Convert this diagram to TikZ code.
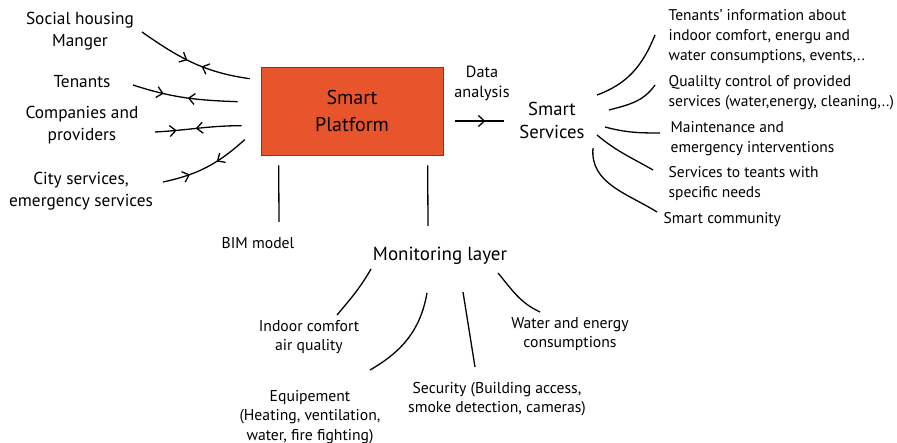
\documentclass[tikz,border=0pt]{standalone}
\usepackage{fontspec}
\setmainfont{PT Sans}
\usetikzlibrary{calc, arrows.meta, decorations.markings, positioning}

\definecolor{platorange}{RGB}{232,85,44}

\begin{document}
\begin{tikzpicture}[x=1pt, y=-1pt, line width=1.3pt,
    every node/.style={inner sep=0pt},
    lbl/.style={align=center, font=\fontsize{17.3}{21.5}\selectfont},
    rlbl/.style={align=left, anchor=west, font=\fontsize{15.5}{20}\selectfont},
    blbl/.style={align=center, font=\fontsize{15.7}{19.5}\selectfont},
    barb/.tip={Straight Barb[length=6pt, width=11pt]},
    twoway/.style 2 args={decoration={markings,
        mark=at position #1 with {\arrow{barb}},
        mark=at position #2 with {\arrowreversed{barb}}},
      postaction={decorate}}]
    \useasboundingbox (0,0) rectangle (897,443);

    % platform and services
    \node[draw=black!70, line width=0.6pt, fill=platorange, minimum width=182pt, minimum height=88pt,
        align=center, font=\fontsize{20}{27}\selectfont] (plat) at (352,111) {Smart\\Platform};
    \node[align=center, font=\fontsize{18.7}{23}\selectfont] (serv) at (552,120) {Smart\\Services};
    \node[lbl, font=\fontsize{16.2}{20}\selectfont] (data) at (482,83) {Data\\analysis};

    % actors on the left
    \node[lbl] (soc) at (80,31) {Social housing\\Manger};
    \node[lbl] (ten) at (82,82) {Tenants};
    \node[lbl] (comp) at (82,125) {Companies and\\providers};
    \node[lbl] (city) at (81,191) {City services,\\emergency services};

    % services on the right
    \node[rlbl] (info) at (668,37) {Tenants’ information about\\indoor comfort, energu and\\water consumptions, events,..};
    \node[rlbl] (qual) at (668,93) {Qualilty control of provided\\services (water,energy, cleaning,..)};
    \node[rlbl] (maint) at (670,139) {Maintenance and\\emergency interventions};
    \node[rlbl] (needs) at (668,184) {Services to teants with\\specific needs};
    \node[rlbl] (comm) at (663,220) {Smart community};

    % layers below
    \node[blbl] (bim) at (258,243) {BIM model};
    \node[blbl, font=\fontsize{19}{20}\selectfont] (mon) at (440,256) {Monitoring layer};
    \node[blbl] (indoor) at (309,337) {Indoor comfort\\air quality};
    \node[blbl] (equip) at (310,417) {Equipement\\(Heating, ventilation,\\water, fire fighting)};
    \node[blbl] (secu) at (497,399) {Security (Building access,\\smoke detection, cameras)};
    \node[blbl] (water) at (570,334) {Water and energy\\consumptions};

    \draw[twoway={0.45}{0.58}] ($(soc.center)+(62,1)$) to[out=-35, in=172] ($(plat.north west)+(-11,12)$);
    \draw[twoway={0.30}{0.53}] ($(ten.center)+(51,3)$) to[out=-18, in=178] ($(plat.north west)+(-23,35)$);
    \draw[twoway={0.25}{0.47}] ($(comp.center)+(73,7)$) to[out=3, in=180] ($(plat.north west)+(-19,59)$);
    \draw[twoway={0.30}{0.62}] ($(city.center)+(82,-9)$) to[out=12, in=-138] ($(plat.north west)+(-16,73)$);

    \draw[decoration={markings, mark=at position 0.62 with {\arrow{barb}}}, postaction={decorate}]
        ($(plat.east)+(12,10)$) -- ($(serv.west)+(-15,1)$);

    \draw ($(serv.center)+(45,-25)$) to[out=20, in=-112] ($(info.west)+(-13,-2)$);
    \draw ($(serv.center)+(57,-10)$) to[out=15, in=-125] ($(qual.west)+(-13,-8)$);
    \draw ($(serv.center)+(53,7)$) to[out=-15, in=180] ($(maint.west)+(-10,-6)$);
    \draw ($(serv.center)+(45,15)$) to[out=-40, in=150] ($(needs.west)+(-15,-14)$);
    \draw ($(serv.center)+(41,28)$) to[out=-95, in=148] ($(comm.west)+(-6,-8)$);

    \draw ($(plat.south west)+(18,10)$) -- ($(bim.center)+(21,-21)$);
    \draw ($(plat.south west)+(167,10)$) -- ($(mon.center)+(-12,-30)$);

    \draw ($(mon.center)+(-69,13)$) to[out=-120, in=50] ($(indoor.center)+(28,-22)$);
    \draw ($(mon.center)+(-13,37)$) to[out=-100, in=30] ($(equip.center)+(60,-47)$);
    \draw ($(mon.center)+(23,36)$) -- ($(secu.center)+(-22,-32)$);
    \draw ($(mon.center)+(58,17)$) to[out=-50, in=155] ($(water.center)+(-30,-22)$);
\end{tikzpicture}
\end{document}
